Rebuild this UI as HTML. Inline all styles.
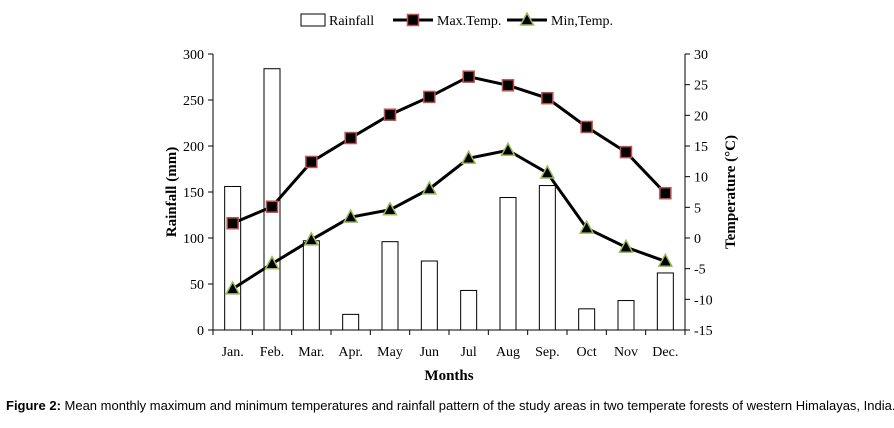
<!DOCTYPE html>
<html><head><meta charset="utf-8"><style>
body{margin:0;background:#fff;width:894px;height:423px;overflow:hidden}
svg text{font-family:"Liberation Serif",serif}
</style></head><body>
<svg id="chart" width="894" height="423" xmlns="http://www.w3.org/2000/svg">
<g id="g"></g>
<text x="6" y="410" style="font-family:'Liberation Sans',sans-serif;font-size:13px"><tspan font-weight="bold">Figure 2:</tspan> Mean monthly maximum and minimum temperatures and rainfall pattern of the study areas in two temperate forests of western Himalayas, India.</text>
</svg>
<script>
const months=["Jan.","Feb.","Mar.","Apr.","May","Jun","Jul","Aug","Sep.","Oct","Nov","Dec."];
const rainfall=[156,284,97,17,96,75,43,144,157,23,32,62];
const maxTemp=[2.4,5.1,12.4,16.3,20.1,23,26.3,24.9,22.8,18.1,14,7.3];
const minTemp=[-8.3,-4.2,-0.3,3.4,4.6,8,13,14.3,10.6,1.6,-1.5,-3.8];
const leftTicks=[0,50,100,150,200,250,300];
const rightTicks=[-15,-10,-5,0,5,10,15,20,25,30];
const NS="http://www.w3.org/2000/svg",g=document.getElementById('g');
const X0=213,X1=685,Y0=330,Y1=54,bw=(X1-X0)/12;
const xc=i=>X0+bw*(i+0.5);
const yL=v=>Y0-(v/300)*(Y0-Y1);
const yR=v=>Y0-((v+15)/45)*(Y0-Y1);
function el(t,a,txt){const e=document.createElementNS(NS,t);for(const k in a)e.setAttribute(k,a[k]);if(txt!==undefined)e.textContent=txt;g.appendChild(e);return e;}
// axes
let e=el('line',{x1:X0,y1:Y1,x2:X0,y2:Y0,stroke:'#000'});

e=el('line',{x1:X1,y1:Y1,x2:X1,y2:Y0,stroke:'#000'});

e=el('line',{x1:X0,y1:Y0,x2:X1,y2:Y0,stroke:'#000'});

leftTicks.forEach(v=>{const y=yL(v);el('line',{x1:X0-5,y1:y,x2:X0,y2:y,stroke:'#000'});
e=el('text',{x:X0-9,y:y+5,'text-anchor':'end','font-size':14},v);
});
rightTicks.forEach(v=>{const y=yR(v);el('line',{x1:X1,y1:y,x2:X1+5,y2:y,stroke:'#000'});
e=el('text',{x:X1+9,y:y+5,'font-size':14},v);
});
months.forEach((m,i)=>{el('line',{x1:X0+bw*i,y1:Y0,x2:X0+bw*i,y2:Y0+5,stroke:'#000'});
e=el('text',{x:xc(i),y:Y0+26,'text-anchor':'middle','font-size':14},m);
});
el('line',{x1:X1,y1:Y0,x2:X1,y2:Y0+5,stroke:'#000'});
// bars
rainfall.forEach((v,i)=>{e=el('rect',{x:xc(i)-8,y:yL(v),width:16,height:Y0-yL(v),fill:'#fff',stroke:'#000','stroke-width':1});
});
// lines
function series(arr,name,marker){
 e=el('polyline',{points:arr.map((v,i)=>xc(i)+','+yR(v)).join(' '),fill:'none',stroke:'#000','stroke-width':3});
 
 arr.forEach((v,i)=>{const x=xc(i),y=yR(v);
  if(marker==='sq')e=el('rect',{x:x-5.5,y:y-5.5,width:11,height:11,fill:'#000',stroke:'#c0504d','stroke-width':1.5});
  else e=el('polygon',{points:`${x},${y-7} ${x-6.5},${y+5} ${x+6.5},${y+5}`,fill:'#000',stroke:'#9bbb59','stroke-width':1.5});
  });
}
series(maxTemp,'max-temp','sq');series(minTemp,'min-temp','tri');
// titles
e=el('text',{x:449,y:380,'text-anchor':'middle','font-size':15,'font-weight':'bold'},'Months');

e=el('text',{x:0,y:0,'text-anchor':'middle','font-size':15,'font-weight':'bold',transform:'translate(176,192) rotate(-90)'},'Rainfall (mm)');

e=el('text',{x:0,y:0,'text-anchor':'middle','font-size':15,'font-weight':'bold',transform:'translate(735,192) rotate(-90)'},'Temperature (°C)');

// legend
e=el('rect',{x:301,y:14,width:24,height:12,fill:'#fff',stroke:'#000'});

e=el('text',{x:329,y:25,'font-size':14},'Rainfall');

el('line',{x1:393,y1:20,x2:433,y2:20,stroke:'#000','stroke-width':3});
el('rect',{x:407.5,y:14.5,width:11,height:11,fill:'#000',stroke:'#c0504d','stroke-width':1.5});
e=el('text',{x:437,y:25,'font-size':14},'Max.Temp.');

el('line',{x1:507,y1:20,x2:547,y2:20,stroke:'#000','stroke-width':3});
el('polygon',{points:'527,13 520.5,25 533.5,25',fill:'#000',stroke:'#9bbb59','stroke-width':1.5});
e=el('text',{x:551,y:25,'font-size':14},'Min,Temp.');

</script>
</body></html>
